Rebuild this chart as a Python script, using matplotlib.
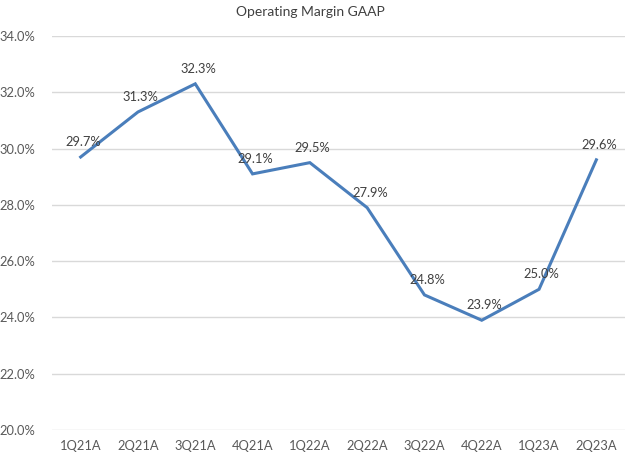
import matplotlib
matplotlib.use("Agg")
import matplotlib.pyplot as plt
from matplotlib.ticker import FuncFormatter

categories = ["1Q21A", "2Q21A", "3Q21A", "4Q21A", "1Q22A", "2Q22A", "3Q22A", "4Q22A", "1Q23A", "2Q23A"]
values = [29.7, 31.3, 32.3, 29.1, 29.5, 27.9, 24.8, 23.9, 25.0, 29.6]
yticks = [20, 22, 24, 26, 28, 30, 32, 34]

plt.rcParams['font.family'] = ['Lato', 'DejaVu Sans']

fig = plt.figure(figsize=(6.28, 4.61), dpi=100)
ax = fig.add_axes([52/628, 31/461, 573/628, 394/461])

x = list(range(len(categories)))
ax.plot(x, values, color="#4a7ebb", linewidth=2.2, solid_joinstyle="miter")
for xi, v in zip(x, values):
    ax.annotate(f"{v:.1f}%", (xi, v), xytext=(2, 6.5), textcoords="offset points",
                ha="center", va="bottom", fontsize=9.3, color="#404040")

ax.set_xlim(-0.5, len(categories) - 0.5)
ax.set_ylim(20, 34)
ax.set_yticks(yticks)
ax.yaxis.set_major_formatter(FuncFormatter(lambda v, p: f"{v:.1f}%"))
ax.set_xticks(x)
ax.set_xticklabels(categories)
ax.grid(axis="y", color="#d9d9d9", linewidth=1)
ax.set_axisbelow(True)
for s in ax.spines.values():
    s.set_visible(False)
ax.tick_params(axis="both", length=0, labelsize=9.3, labelcolor="#595959")
ax.tick_params(axis="y", pad=12)
ax.tick_params(axis="x", pad=7)
fig.text(310/628, 1 - 12/461, "Operating Margin GAAP", ha="center", va="center", fontsize=10, color="#404040")

fig.savefig("out.png", dpi=100)
